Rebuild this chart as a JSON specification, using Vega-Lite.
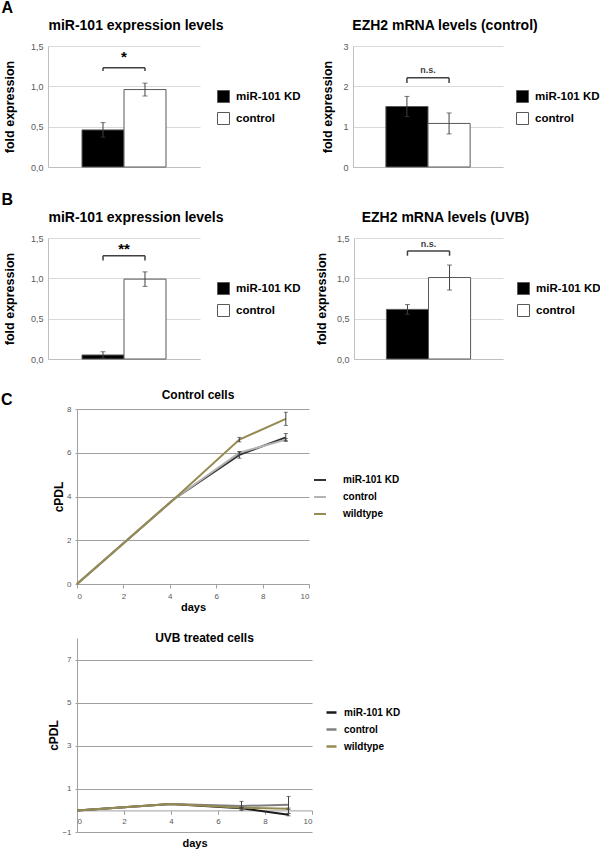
{
  "$schema": "https://vega.github.io/schema/vega-lite/v6.json",
  "padding": {"left": 1, "top": 0, "right": 0, "bottom": 0},
  "background": "white",
  "config": {
    "font": "Liberation Sans",
    "view": {"stroke": null},
    "axis": {"labelColor": "#595959", "labelFont": "Liberation Sans", "titleColor": "#000000", "titleFontWeight": "bold", "titleFont": "Liberation Sans", "domainColor": "#BFBFBF", "tickColor": "#A0A0A0"},
    "title": {"fontWeight": "bold", "color": "#000000", "font": "Liberation Sans"},
    "legend": {"labelFontWeight": "bold", "labelColor": "#000000", "labelFont": "Liberation Sans"}
  },
  "datasets": {
    "a1": [{"group": "miR-101 KD", "value": 0.46, "err": 0.09}, {"group": "control", "value": 0.96, "err": 0.08}],
    "a1b": [{"from": "miR-101 KD", "to": "control", "top": 1.23, "foot": 1.19, "sig": "*", "sigY": 1.36}],
    "a2": [{"group": "miR-101 KD", "value": 1.5, "err": 0.25}, {"group": "control", "value": 1.08, "err": 0.26}],
    "a2b": [{"from": "miR-101 KD", "to": "control", "top": 2.21, "foot": 2.08, "sig": "n.s.", "sigY": 2.4}],
    "b1": [{"group": "miR-101 KD", "value": 0.05, "err": 0.04}, {"group": "control", "value": 0.99, "err": 0.09}],
    "b1b": [{"from": "miR-101 KD", "to": "control", "top": 1.28, "foot": 1.22, "sig": "**", "sigY": 1.36}],
    "b2": [{"group": "miR-101 KD", "value": 0.615, "err": 0.06}, {"group": "control", "value": 1.01, "err": 0.155}],
    "b2b": [{"from": "miR-101 KD", "to": "control", "top": 1.34, "foot": 1.28, "sig": "n.s.", "sigY": 1.43}]
  },
  "spacing": 25,
  "resolve": {"scale": {"color": "independent"}, "legend": {"color": "independent"}},
  "vconcat": [
    {
      "spacing": 20,
      "resolve": {"scale": {"color": "independent"}, "legend": {"color": "independent"}},
      "vconcat": [
        {
          "title": {"text": "A", "anchor": "start", "fontSize": 16, "offset": 3, "dx": -2},
          "bounds": "flush",
          "spacing": 153,
          "resolve": {"scale": {"color": "independent"}, "legend": {"color": "independent"}},
          "hconcat": [
            {
              "width": 152, "height": 121,
              "title": {"text": "miR-101 expression levels", "fontSize": 14, "frame": "group", "dx": 12, "offset": 9},
              "layer": [
                {"data": {"name": "a1"}, "mark": {"type": "bar", "stroke": "#595959", "strokeWidth": 1},
                 "encoding": {
                   "x": {"field": "group", "type": "nominal", "title": null, "scale": {"domain": ["miR-101 KD", "control"], "paddingInner": 0, "paddingOuter": 0.81}, "axis": {"labels": false, "ticks": false, "title": null}},
                   "y": {"field": "value", "type": "quantitative", "title": "fold expression", "scale": {"domain": [0, 1.5], "nice": false}, "axis": {"values": [0, 0.5, 1, 1.5], "labelExpr": "replace(format(datum.value, '.1f'), '.', ',')", "grid": true, "gridColor": "#D9D9D9", "ticks": false, "labelPadding": 5, "labelFontSize": 9, "titleFontSize": 12.5, "titlePadding": 14}},
                   "color": {"field": "group", "type": "nominal", "scale": {"domain": ["miR-101 KD", "control"], "range": ["#000000", "#FFFFFF"]}, "legend": {"title": null, "orient": "none", "legendX": 169, "legendY": 44, "symbolType": "square", "symbolSize": 144, "symbolStrokeColor": "#595959", "symbolStrokeWidth": 1, "labelFontSize": 11.5, "labelOffset": 6, "rowPadding": 5}}
                 }},
                {"data": {"name": "a1"}, "mark": {"type": "errorbar", "ticks": {"size": 5}, "color": "#404040"},
                 "encoding": {"x": {"field": "group", "type": "nominal", "title": null}, "y": {"field": "value", "type": "quantitative", "title": "fold expression"}, "yError": {"field": "err"}}},
                {"data": {"name": "a1b"}, "mark": {"type": "rule", "color": "#404040", "strokeWidth": 1.5},
                 "encoding": {"x": {"field": "from", "type": "nominal", "title": null}, "x2": {"field": "to"}, "y": {"field": "top", "type": "quantitative", "title": "fold expression"}}},
                {"data": {"name": "a1b"}, "mark": {"type": "rule", "color": "#404040", "strokeWidth": 1.5},
                 "encoding": {"x": {"field": "from", "type": "nominal", "title": null}, "y": {"field": "top", "type": "quantitative", "title": "fold expression"}, "y2": {"field": "foot"}}},
                {"data": {"name": "a1b"}, "mark": {"type": "rule", "color": "#404040", "strokeWidth": 1.5},
                 "encoding": {"x": {"field": "to", "type": "nominal", "title": null}, "y": {"field": "top", "type": "quantitative", "title": "fold expression"}, "y2": {"field": "foot"}}},
                {"data": {"name": "a1b"}, "mark": {"type": "text", "fontSize": 15, "fontWeight": "bold", "baseline": "middle"},
                 "encoding": {"x": {"field": "to", "type": "nominal", "title": null, "bandPosition": 0}, "y": {"field": "sigY", "type": "quantitative", "title": "fold expression"}, "text": {"field": "sig"}}}
              ]
            },
            {
              "width": 150, "height": 121,
              "title": {"text": "EZH2 mRNA levels (control)", "fontSize": 14, "frame": "group", "dx": 17, "offset": 9},
              "layer": [
                {"data": {"name": "a2"}, "mark": {"type": "bar", "stroke": "#595959", "strokeWidth": 1},
                 "encoding": {
                   "x": {"field": "group", "type": "nominal", "title": null, "scale": {"domain": ["miR-101 KD", "control"], "paddingInner": 0, "paddingOuter": 0.78}, "axis": {"labels": false, "ticks": false, "title": null}},
                   "y": {"field": "value", "type": "quantitative", "title": "fold expression", "scale": {"domain": [0, 3], "nice": false}, "axis": {"values": [0, 1, 2, 3], "format": "d", "grid": true, "gridColor": "#D9D9D9", "ticks": false, "labelPadding": 5, "labelFontSize": 9, "titleFontSize": 12.5, "titlePadding": 8}},
                   "color": {"field": "group", "type": "nominal", "scale": {"domain": ["miR-101 KD", "control"], "range": ["#000000", "#FFFFFF"]}, "legend": {"title": null, "orient": "none", "legendX": 163, "legendY": 44, "symbolType": "square", "symbolSize": 144, "symbolStrokeColor": "#595959", "symbolStrokeWidth": 1, "labelFontSize": 11.5, "labelOffset": 6, "rowPadding": 5}}
                 }},
                {"data": {"name": "a2"}, "mark": {"type": "errorbar", "ticks": {"size": 5}, "color": "#404040"},
                 "encoding": {"x": {"field": "group", "type": "nominal", "title": null}, "y": {"field": "value", "type": "quantitative", "title": "fold expression"}, "yError": {"field": "err"}}},
                {"data": {"name": "a2b"}, "mark": {"type": "rule", "color": "#404040", "strokeWidth": 1.5},
                 "encoding": {"x": {"field": "from", "type": "nominal", "title": null}, "x2": {"field": "to"}, "y": {"field": "top", "type": "quantitative", "title": "fold expression"}}},
                {"data": {"name": "a2b"}, "mark": {"type": "rule", "color": "#404040", "strokeWidth": 1.5},
                 "encoding": {"x": {"field": "from", "type": "nominal", "title": null}, "y": {"field": "top", "type": "quantitative", "title": "fold expression"}, "y2": {"field": "foot"}}},
                {"data": {"name": "a2b"}, "mark": {"type": "rule", "color": "#404040", "strokeWidth": 1.5},
                 "encoding": {"x": {"field": "to", "type": "nominal", "title": null}, "y": {"field": "top", "type": "quantitative", "title": "fold expression"}, "y2": {"field": "foot"}}},
                {"data": {"name": "a2b"}, "mark": {"type": "text", "fontSize": 9, "fontWeight": "bold", "baseline": "middle", "color": "#404040"},
                 "encoding": {"x": {"field": "to", "type": "nominal", "title": null, "bandPosition": 0}, "y": {"field": "sigY", "type": "quantitative", "title": "fold expression"}, "text": {"field": "sig"}}}
              ]
            }
          ]
        },
        {
          "title": {"text": "B", "anchor": "start", "fontSize": 16, "offset": 3, "dx": -2},
          "bounds": "flush",
          "spacing": 154,
          "resolve": {"scale": {"color": "independent"}, "legend": {"color": "independent"}},
          "hconcat": [
            {
              "width": 152, "height": 121,
              "title": {"text": "miR-101 expression levels", "fontSize": 14, "frame": "group", "dx": 12, "offset": 9},
              "layer": [
                {"data": {"name": "b1"}, "mark": {"type": "bar", "stroke": "#595959", "strokeWidth": 1},
                 "encoding": {
                   "x": {"field": "group", "type": "nominal", "title": null, "scale": {"domain": ["miR-101 KD", "control"], "paddingInner": 0, "paddingOuter": 0.81}, "axis": {"labels": false, "ticks": false, "title": null}},
                   "y": {"field": "value", "type": "quantitative", "title": "fold expression", "scale": {"domain": [0, 1.5], "nice": false}, "axis": {"values": [0, 0.5, 1, 1.5], "labelExpr": "replace(format(datum.value, '.1f'), '.', ',')", "grid": true, "gridColor": "#D9D9D9", "ticks": false, "labelPadding": 5, "labelFontSize": 9, "titleFontSize": 12.5, "titlePadding": 14}},
                   "color": {"field": "group", "type": "nominal", "scale": {"domain": ["miR-101 KD", "control"], "range": ["#000000", "#FFFFFF"]}, "legend": {"title": null, "orient": "none", "legendX": 169, "legendY": 44, "symbolType": "square", "symbolSize": 144, "symbolStrokeColor": "#595959", "symbolStrokeWidth": 1, "labelFontSize": 11.5, "labelOffset": 6, "rowPadding": 5}}
                 }},
                {"data": {"name": "b1"}, "mark": {"type": "errorbar", "ticks": {"size": 5}, "color": "#404040"},
                 "encoding": {"x": {"field": "group", "type": "nominal", "title": null}, "y": {"field": "value", "type": "quantitative", "title": "fold expression"}, "yError": {"field": "err"}}},
                {"data": {"name": "b1b"}, "mark": {"type": "rule", "color": "#404040", "strokeWidth": 1.5},
                 "encoding": {"x": {"field": "from", "type": "nominal", "title": null}, "x2": {"field": "to"}, "y": {"field": "top", "type": "quantitative", "title": "fold expression"}}},
                {"data": {"name": "b1b"}, "mark": {"type": "rule", "color": "#404040", "strokeWidth": 1.5},
                 "encoding": {"x": {"field": "from", "type": "nominal", "title": null}, "y": {"field": "top", "type": "quantitative", "title": "fold expression"}, "y2": {"field": "foot"}}},
                {"data": {"name": "b1b"}, "mark": {"type": "rule", "color": "#404040", "strokeWidth": 1.5},
                 "encoding": {"x": {"field": "to", "type": "nominal", "title": null}, "y": {"field": "top", "type": "quantitative", "title": "fold expression"}, "y2": {"field": "foot"}}},
                {"data": {"name": "b1b"}, "mark": {"type": "text", "fontSize": 15, "fontWeight": "bold", "baseline": "middle"},
                 "encoding": {"x": {"field": "to", "type": "nominal", "title": null, "bandPosition": 0}, "y": {"field": "sigY", "type": "quantitative", "title": "fold expression"}, "text": {"field": "sig"}}}
              ]
            },
            {
              "width": 149, "height": 121,
              "title": {"text": "EZH2 mRNA levels (UVB)", "fontSize": 14, "frame": "group", "dx": 17, "offset": 9},
              "layer": [
                {"data": {"name": "b2"}, "mark": {"type": "bar", "stroke": "#595959", "strokeWidth": 1},
                 "encoding": {
                   "x": {"field": "group", "type": "nominal", "title": null, "scale": {"domain": ["miR-101 KD", "control"], "paddingInner": 0, "paddingOuter": 0.77}, "axis": {"labels": false, "ticks": false, "title": null}},
                   "y": {"field": "value", "type": "quantitative", "title": "fold expression", "scale": {"domain": [0, 1.5], "nice": false}, "axis": {"values": [0, 0.5, 1, 1.5], "labelExpr": "replace(format(datum.value, '.1f'), '.', ',')", "grid": true, "gridColor": "#D9D9D9", "ticks": false, "labelPadding": 5, "labelFontSize": 9, "titleFontSize": 12.5, "titlePadding": 8}},
                   "color": {"field": "group", "type": "nominal", "scale": {"domain": ["miR-101 KD", "control"], "range": ["#000000", "#FFFFFF"]}, "legend": {"title": null, "orient": "none", "legendX": 163, "legendY": 44, "symbolType": "square", "symbolSize": 144, "symbolStrokeColor": "#595959", "symbolStrokeWidth": 1, "labelFontSize": 11.5, "labelOffset": 6, "rowPadding": 5}}
                 }},
                {"data": {"name": "b2"}, "mark": {"type": "errorbar", "ticks": {"size": 5}, "color": "#404040"},
                 "encoding": {"x": {"field": "group", "type": "nominal", "title": null}, "y": {"field": "value", "type": "quantitative", "title": "fold expression"}, "yError": {"field": "err"}}},
                {"data": {"name": "b2b"}, "mark": {"type": "rule", "color": "#404040", "strokeWidth": 1.5},
                 "encoding": {"x": {"field": "from", "type": "nominal", "title": null}, "x2": {"field": "to"}, "y": {"field": "top", "type": "quantitative", "title": "fold expression"}}},
                {"data": {"name": "b2b"}, "mark": {"type": "rule", "color": "#404040", "strokeWidth": 1.5},
                 "encoding": {"x": {"field": "from", "type": "nominal", "title": null}, "y": {"field": "top", "type": "quantitative", "title": "fold expression"}, "y2": {"field": "foot"}}},
                {"data": {"name": "b2b"}, "mark": {"type": "rule", "color": "#404040", "strokeWidth": 1.5},
                 "encoding": {"x": {"field": "to", "type": "nominal", "title": null}, "y": {"field": "top", "type": "quantitative", "title": "fold expression"}, "y2": {"field": "foot"}}},
                {"data": {"name": "b2b"}, "mark": {"type": "text", "fontSize": 9, "fontWeight": "bold", "baseline": "middle", "color": "#404040"},
                 "encoding": {"x": {"field": "to", "type": "nominal", "title": null, "bandPosition": 0}, "y": {"field": "sigY", "type": "quantitative", "title": "fold expression"}, "text": {"field": "sig"}}}
              ]
            }
          ]
        }
      ]
    },
    {
      "bounds": "flush",
      "spacing": 28,
      "resolve": {"scale": {"color": "independent"}, "legend": {"color": "independent"}},
      "hconcat": [
        {
          "width": 1, "height": 1,
          "title": {"text": "C", "anchor": "start", "frame": "group", "fontSize": 16, "dx": -47, "offset": 1},
          "data": {"values": []},
          "mark": "point"
        },
        {
          "spacing": 20,
          "resolve": {"scale": {"color": "independent"}, "legend": {"color": "independent"}},
          "vconcat": [
            {
              "width": 232, "height": 175,
              "title": {"text": "Control cells", "fontSize": 12, "frame": "group", "dx": 5, "offset": 3},
              "data": {"values": [
                {"series": "miR-101 KD", "day": 0, "cpdl": 0, "err": 0},
                {"series": "miR-101 KD", "day": 4.2, "cpdl": 3.9, "err": 0},
                {"series": "miR-101 KD", "day": 7, "cpdl": 5.9, "err": 0.15},
                {"series": "miR-101 KD", "day": 9, "cpdl": 6.7, "err": 0.18},
                {"series": "control", "day": 0, "cpdl": 0, "err": 0},
                {"series": "control", "day": 4.2, "cpdl": 3.9, "err": 0},
                {"series": "control", "day": 7, "cpdl": 6.0, "err": 0.05},
                {"series": "control", "day": 9, "cpdl": 6.6, "err": 0.05},
                {"series": "wildtype", "day": 0, "cpdl": 0, "err": 0},
                {"series": "wildtype", "day": 4.2, "cpdl": 3.9, "err": 0},
                {"series": "wildtype", "day": 7, "cpdl": 6.6, "err": 0.1},
                {"series": "wildtype", "day": 9, "cpdl": 7.55, "err": 0.3}
              ]},
              "layer": [
                {"mark": {"type": "line", "strokeWidth": 2},
                 "encoding": {
                   "x": {"field": "day", "type": "quantitative", "title": "days", "scale": {"domain": [0, 10], "nice": false}, "axis": {"values": [0, 1, 2, 3, 4, 5, 6, 7, 8, 9, 10], "grid": false, "tickSize": 4, "labelPadding": 4, "labelFontSize": 8, "titleFontSize": 11, "titlePadding": 1, "domainColor": "#A0A0A0"}},
                   "y": {"field": "cpdl", "type": "quantitative", "title": "cPDL", "scale": {"domain": [0, 8], "nice": false}, "axis": {"values": [0, 2, 4, 6, 8], "grid": true, "gridColor": "#A0A0A0", "tickSize": 2, "labelPadding": 4, "labelFontSize": 8, "titleFontSize": 12, "titlePadding": 1, "domainColor": "#A0A0A0"}},
                   "color": {"field": "series", "type": "nominal", "scale": {"domain": ["miR-101 KD", "control", "wildtype"], "range": ["#333333", "#B3B3B3", "#958A52"]}, "legend": {"title": null, "orient": "none", "legendX": 236, "legendY": 64, "symbolType": "stroke", "symbolSize": 144, "symbolStrokeWidth": 2, "labelFontSize": 10, "labelOffset": 16, "rowPadding": 5}}
                 }},
                {"transform": [{"filter": "datum.err > 0"}], "mark": {"type": "errorbar", "ticks": {"size": 4}, "color": "#404040"},
                 "encoding": {"x": {"field": "day", "type": "quantitative", "title": "days"}, "y": {"field": "cpdl", "type": "quantitative", "title": "cPDL"}, "yError": {"field": "err"}}}
              ]
            },
            {
              "width": 235, "height": 194,
              "title": {"text": "UVB treated cells", "fontSize": 12, "frame": "group", "dx": 10, "offset": -7},
              "data": {"values": [
                {"series": "miR-101 KD", "day": 0, "cpdl": 0, "err": 0},
                {"series": "miR-101 KD", "day": 4, "cpdl": 0.3, "err": 0},
                {"series": "miR-101 KD", "day": 7, "cpdl": 0.1, "err": 0.04},
                {"series": "miR-101 KD", "day": 9, "cpdl": -0.2, "err": 0.05},
                {"series": "control", "day": 0, "cpdl": 0, "err": 0},
                {"series": "control", "day": 4, "cpdl": 0.3, "err": 0},
                {"series": "control", "day": 7, "cpdl": 0.21, "err": 0.21},
                {"series": "control", "day": 9, "cpdl": 0.26, "err": 0.39},
                {"series": "wildtype", "day": 0, "cpdl": 0, "err": 0},
                {"series": "wildtype", "day": 4, "cpdl": 0.3, "err": 0},
                {"series": "wildtype", "day": 7, "cpdl": 0.12, "err": 0.03},
                {"series": "wildtype", "day": 9, "cpdl": 0.08, "err": 0.03}
              ]},
              "layer": [
                {"mark": {"type": "line", "strokeWidth": 2},
                 "encoding": {
                   "x": {"field": "day", "type": "quantitative", "title": "days", "scale": {"domain": [0, 10], "nice": false}, "axis": {"values": [0, 1, 2, 3, 4, 5, 6, 7, 8, 9, 10], "grid": false, "offset": -21.6, "tickSize": 4, "labelPadding": 3, "labelFontSize": 8, "titleFontSize": 11, "titlePadding": 12, "domainColor": "#A0A0A0"}},
                   "y": {"field": "cpdl", "type": "quantitative", "title": "cPDL", "scale": {"domain": [-1, 8], "nice": false}, "axis": {"values": [-1, 1, 3, 5, 7], "grid": true, "gridColor": "#A0A0A0", "tickSize": 2, "labelPadding": 4, "labelFontSize": 8, "titleFontSize": 12, "titlePadding": 1, "domainColor": "#A0A0A0"}},
                   "color": {"field": "series", "type": "nominal", "scale": {"domain": ["miR-101 KD", "control", "wildtype"], "range": ["#1A1A1A", "#808080", "#958A52"]}, "legend": {"title": null, "orient": "none", "legendX": 248, "legendY": 68, "symbolType": "stroke", "symbolSize": 100, "symbolStrokeWidth": 2.5, "labelFontSize": 10, "labelOffset": 6, "rowPadding": 5}}
                 }},
                {"transform": [{"filter": "datum.err > 0"}], "mark": {"type": "errorbar", "ticks": {"size": 4}, "color": "#404040"},
                 "encoding": {"x": {"field": "day", "type": "quantitative", "title": "days"}, "y": {"field": "cpdl", "type": "quantitative", "title": "cPDL"}, "yError": {"field": "err"}}}
              ]
            }
          ]
        }
      ]
    }
  ]
}
